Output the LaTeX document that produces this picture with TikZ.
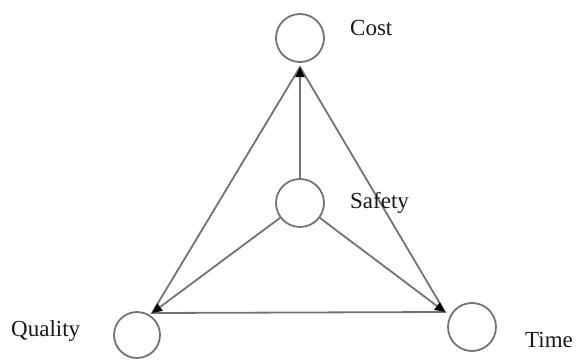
\documentclass[tikz,border=0pt]{standalone}
\usepackage{fontspec}
\setmainfont{Liberation Serif}
\usetikzlibrary{arrows.meta}
\begin{document}
\begin{tikzpicture}[x=1pt,y=-1pt,
  ball/.style={circle,draw=black!55,line width=1.8pt,minimum size=48pt,inner sep=0pt},
  edge/.style={draw=black!55,line width=1.8pt},
  spoke/.style={edge,-{Triangle[length=10pt,width=9pt,fill=black,color=black]}},
  lbl/.style={font=\fontsize{23}{26}\selectfont,text=black!90,inner sep=0pt}]
\useasboundingbox (0,0) rectangle (576,359);
\node[ball] (cost) at (300,38) {};
\node[ball] (safety) at (300,203) {};
\node[ball,minimum size=46pt] (quality) at (137,335) {};
\node[ball] (time) at (472,327) {};
\coordinate (T) at (300,67);
\coordinate (L) at (152,313);
\coordinate (R) at (445,312);
\draw[edge] (T) -- (L) -- (R) -- cycle;
\draw[spoke] (safety) -- (T);
\draw[spoke] (safety) -- (L);
\draw[spoke] (safety) -- (R);
\node[lbl,anchor=west] (tcost) at (350,28) {Cost};
\node[lbl,anchor=west] (tsafety) at (350,203) {Safety};
\node[lbl,anchor=west] (tquality) at (11,331) {Quality};
\node[lbl,anchor=west] (ttime) at (525,340) {Time};
\end{tikzpicture}
\end{document}
